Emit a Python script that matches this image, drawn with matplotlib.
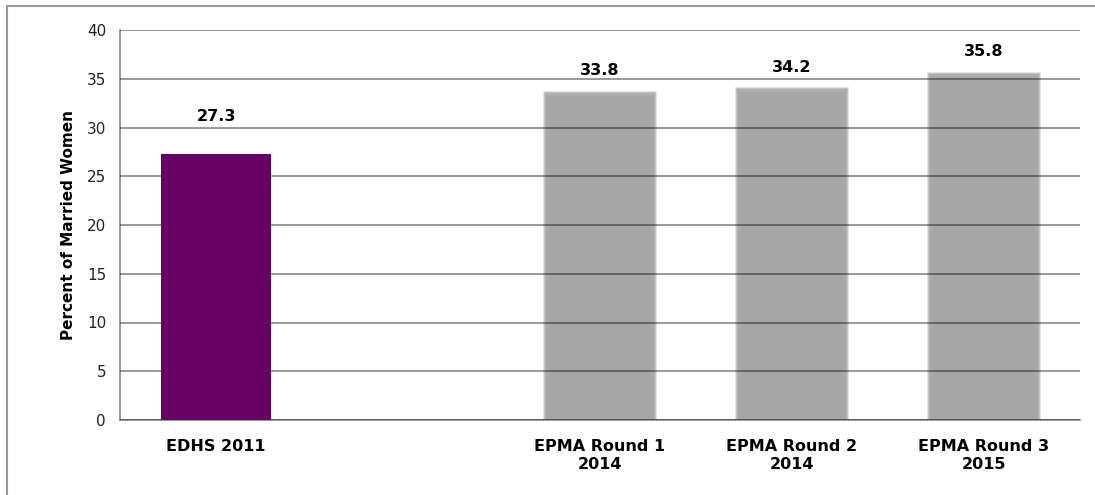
import numpy as np
import matplotlib.pyplot as plt
from matplotlib.patches import Rectangle

# data
categorias = ['EDHS 2011', '', 'EPMA Round 1\n2014', 'EPMA Round 2\n2014', 'EPMA Round 3\n2015']
valores = [27.3, None, 33.8, 34.2, 35.8]
cores = ['#660066', None, '#a6a6a6', '#a6a6a6', '#a6a6a6']
yticks = [0, 5, 10, 15, 20, 25, 30, 35, 40]


def main():
    fig = plt.figure(figsize=(10.95, 4.95), dpi=100)
    ax = fig.add_axes([120 / 1095, 75 / 495, 960 / 1095, 390 / 495])

    xvalues = np.arange(len(categorias))
    largura = 0.57
    for i in range(len(categorias)):
        v = valores[i]
        if v is None:
            continue
        if cores[i] == '#660066':
            ax.bar(xvalues[i], v, largura, color=cores[i], zorder=3)
            deslocamento = 3.8
        else:
            # soft blurred edges like the original
            for k, a in [(0.02, 0.3), (0.01, 0.5), (0.0, 0.7)]:
                ax.bar(xvalues[i], v - 0.3 + k * 12, largura + k, color=cores[i], alpha=a,
                       zorder=1, linewidth=0)
            ax.bar(xvalues[i], v - 0.6, largura - 0.02, color=cores[i], zorder=1.2, linewidth=0)
            deslocamento = 2.0
        ax.text(xvalues[i], v + deslocamento, f'{v:.1f}', ha='center', va='center',
                fontsize=11.5, fontweight='bold', zorder=4)

    ax.set_xlim(-0.5, len(categorias) - 0.5)
    ax.set_ylim(0, 40)
    ax.set_yticks(yticks)
    ax.set_yticklabels([str(t) for t in yticks], fontsize=11, color='#222222')
    ax.set_xticks(xvalues)
    ax.set_xticklabels(categorias, fontsize=11.5, fontweight='bold', va='top', linespacing=1.25)
    ax.tick_params(axis='both', length=0)
    ax.tick_params(axis='x', pad=14)
    ax.tick_params(axis='y', pad=10)

    ax.grid(True, axis='y', color='black', alpha=0.47, linewidth=1.2)
    ax.set_axisbelow(False)
    for lbl in ax.yaxis.get_gridlines():
        lbl.set_zorder(2)

    ax.spines['top'].set_visible(False)
    ax.spines['right'].set_visible(False)
    ax.spines['left'].set_color('#888888')
    ax.spines['bottom'].set_color('#888888')
    ax.spines['left'].set_linewidth(1.2)
    ax.spines['bottom'].set_linewidth(1.2)

    ax.set_ylabel('Percent of Married Women', fontsize=11, fontweight='bold',
                  family=['Liberation Sans Narrow', 'DejaVu Sans'], labelpad=8)

    # outer frame
    fig.patches.append(Rectangle((7 / 1095, -0.05), 1.2, 1 - 6 / 495 + 0.05,
                                 transform=fig.transFigure, fill=False,
                                 edgecolor='#999999', linewidth=1.5))

    fig.savefig('out.png', dpi=100)


main()
